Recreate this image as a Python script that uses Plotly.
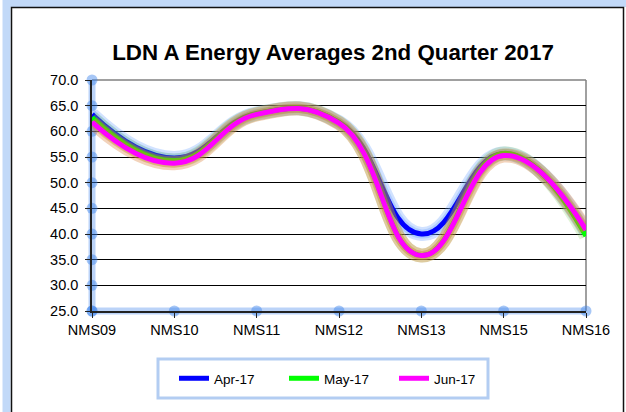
import plotly.graph_objects as go

categories = ["NMS09", "NMS10", "NMS11", "NMS12", "NMS13", "NMS15", "NMS16"]
apr_17 = [63.3, 54.8, 63.5, 61.8, 40.0, 55.7, 40.4]
may_17 = [62.7, 54.3, 63.4, 61.7, 35.8, 55.7, 39.6]
jun_17 = [61.8, 53.8, 63.3, 61.6, 35.8, 55.3, 40.8]
y_ticks = [25, 30, 35, 40, 45, 50, 55, 60, 65, 70]

series = [
    ("Apr-17", apr_17, "#0000ff", "rgba(90,150,255,0.28)"),
    ("May-17", may_17, "#00ff00", "rgba(120,200,70,0.22)"),
    ("Jun-17", jun_17, "#ff00ff", "rgba(215,120,50,0.33)"),
]

W, H = 626, 412
L, R, T, B = 92, 40, 80, 101
PW, PH = W - L - R, H - T - B


def xp(px):
    return (px - L) / PW


def yp(py):
    return (H - B - py) / PH


fig = go.Figure()

# axis tick glow blobs
glow_blue = "rgba(60,130,235,0.45)"
fig.add_trace(go.Scatter(x=[categories[0]] * len(y_ticks), y=y_ticks, mode="markers",
                         marker=dict(size=11, color=glow_blue), cliponaxis=False,
                         showlegend=False, hoverinfo="skip"))
fig.add_trace(go.Scatter(x=categories, y=[y_ticks[0]] * len(categories), mode="markers",
                         marker=dict(size=11, color=glow_blue), cliponaxis=False,
                         showlegend=False, hoverinfo="skip"))

SM = 1.3
for name, vals, color, glow in series:
    fig.add_trace(go.Scatter(x=categories, y=vals, mode="lines",
                             line=dict(color=glow, width=14, shape="spline", smoothing=SM),
                             showlegend=False, hoverinfo="skip", cliponaxis=False))
    fig.add_trace(go.Scatter(x=categories, y=vals, mode="lines",
                             line=dict(color=glow, width=9, shape="spline", smoothing=SM),
                             showlegend=False, hoverinfo="skip", cliponaxis=False))
    fig.add_trace(go.Scatter(x=categories, y=vals, mode="lines", name=name,
                             line=dict(color=color, width=5, shape="spline", smoothing=SM),
                             cliponaxis=False))

shapes = [
    # outer chart glow + border
    dict(type="rect", xref="paper", yref="paper", x0=xp(6.5), x1=xp(660), y0=yp(3), y1=yp(440),
         line=dict(color="rgba(120,170,240,0.45)", width=8), layer="below"),
    dict(type="rect", xref="paper", yref="paper", x0=xp(11.5), x1=xp(623.5), y0=yp(7.5), y1=yp(440),
         line=dict(color="#111111", width=1.5), fillcolor="white", layer="below"),
    # plot area top/right gray border
    dict(type="line", xref="x domain", yref="y domain", x0=0, x1=1, y0=1, y1=1,
         line=dict(color="#808080", width=1.5), layer="below"),
    dict(type="line", xref="x domain", yref="y domain", x0=1, x1=1, y0=0, y1=1,
         line=dict(color="#808080", width=1.5), layer="below"),
    # axis glows
    dict(type="line", xref="x domain", yref="y domain", x0=0, x1=0, y0=0, y1=1,
         line=dict(color="rgba(60,130,235,0.35)", width=7), layer="below"),
    dict(type="line", xref="x domain", yref="y domain", x0=0, x1=1, y0=0, y1=0,
         line=dict(color="rgba(60,130,235,0.35)", width=7), layer="below"),
    # legend box
    dict(type="rect", xref="paper", yref="paper", x0=xp(158), x1=xp(488), y0=yp(398), y1=yp(359),
         line=dict(color="#b3cdf2", width=3), fillcolor="white", layer="above"),
]

fig.update_layout(
    width=W, height=H,
    margin=dict(l=L, r=R, t=T, b=B, autoexpand=False),
    paper_bgcolor="white", plot_bgcolor="white",
    font=dict(family="Liberation Sans, Arial, sans-serif", color="#000000", size=14),
    title=dict(text="LDN A Energy Averages 2nd Quarter 2017", xref="container", yref="container",
               x=333 / W, y=1 - 52 / H, xanchor="center", yanchor="middle",
               font=dict(size=22.3, weight="bold", color="#000000")),
    showlegend=True,
    legend=dict(orientation="h", x=xp(174), xanchor="left", y=yp(378.5), yanchor="middle",
                bgcolor="rgba(0,0,0,0)", borderwidth=0, font=dict(size=13.5),
                entrywidth=65, entrywidthmode="pixels"),
    shapes=shapes,
    xaxis=dict(type="category", range=[0, len(categories) - 1], showgrid=False,
               showline=True, linecolor="#222222", linewidth=1.5,
               ticks="outside", ticklen=5, tickcolor="#222222", tickfont=dict(size=14.5),
               zeroline=False, automargin=False),
    yaxis=dict(range=[25, 70], tickvals=y_ticks, tickformat=".1f", showgrid=True,
               gridcolor="#000000", gridwidth=1, showline=True, linecolor="#222222", linewidth=1.5,
               ticks="outside", ticklen=5, tickcolor="#222222", tickfont=dict(size=14.5),
               ticklabelstandoff=4, zeroline=False, automargin=False),
)

fig.write_html("out.html", config={"displayModeBar": False},
               post_script="document.body.style.margin='0';")
